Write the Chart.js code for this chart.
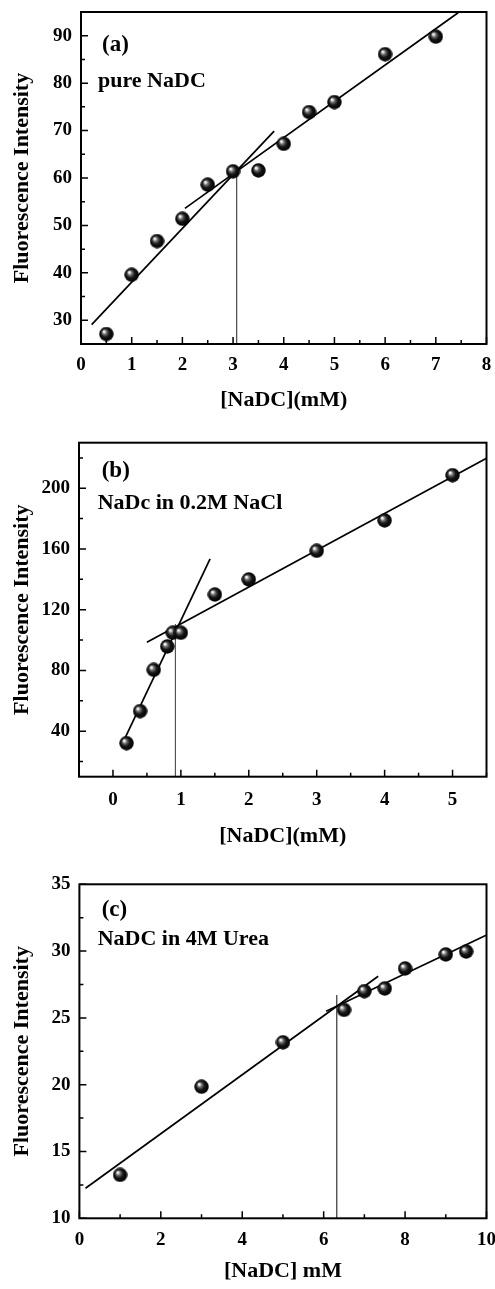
<!DOCTYPE html>
<html><head><meta charset="utf-8">
<script src="https://cdn.jsdelivr.net/npm/chart.js@4.4.1/dist/chart.umd.min.js"></script>
<style>
html,body{margin:0;padding:0;background:#fff;}
body{width:495px;height:1289px;position:relative;overflow:hidden;}
canvas{position:absolute;left:0;}
</style></head><body>
<canvas id="ca" width="495" height="420" style="top:0"></canvas>
<canvas id="cb" width="495" height="440" style="top:420px"></canvas>
<canvas id="cc" width="495" height="429" style="top:860px"></canvas>
<script>
// ---------- Panel (a): pure NaDC ----------
const xA = [0.5, 1, 1.5, 2, 2.5, 3, 3.5, 4, 4.5, 5, 6, 7];
const yA = [27.1, 39.6, 46.7, 51.4, 58.6, 61.4, 61.6, 67.2, 73.9, 76.0, 86.1, 89.8];
const fitA1X = [0.21, 3.81], fitA1Y = [29.1, 69.9];
const fitA2X = [2.05, 7.44], fitA2Y = [53.6, 94.85];
const cmcA_X = [3.07, 3.07], cmcA_Y = [61.4, 25];
const xTicksA = [0,0.5,1,1.5,2,2.5,3,3.5,4,4.5,5,5.5,6,6.5,7,7.5,8];
const xLabelsA = [0,1,2,3,4,5,6,7,8];
const yTicksA = [25,30,35,40,45,50,55,60,65,70,75,80,85,90,95];
const yLabelsA = [30,40,50,60,70,80,90];

// ---------- Panel (b): NaDc in 0.2M NaCl ----------
const xB = [0.2, 0.4, 0.6, 0.8, 0.88, 1.0, 1.5, 2, 3, 4, 5];
const yB = [32.1, 53.2, 80.4, 95.8, 104.8, 104.8, 130, 139.9, 158.8, 178.8, 208.6];
const fitB1X = [0.165, 1.43], fitB1Y = [34.3, 153.5];
const fitB2X = [0.50, 5.5], fitB2Y = [98.6, 219.7];
const cmcB_X = [0.92, 0.92], cmcB_Y = [110.5, 10];
const xTicksB = [-0.5,0,0.5,1,1.5,2,2.5,3,3.5,4,4.5,5,5.5];
const xLabelsB = [0,1,2,3,4,5];
const yTicksB = [20,40,60,80,100,120,140,160,180,200,220];
const yLabelsB = [40,80,120,160,200];

// ---------- Panel (c): NaDC in 4M Urea ----------
const xC = [1, 3, 5, 6.5, 7, 7.5, 8, 9, 9.5];
const yC = [13.25, 19.85, 23.17, 25.6, 27.0, 27.2, 28.7, 29.75, 29.97];
const fitC1X = [0.15, 7.34], fitC1Y = [12.25, 28.12];
const fitC2X = [6.06, 9.99], fitC2Y = [25.5, 31.18];
const cmcC_X = [6.32, 6.32], cmcC_Y = [26.7, 10];
const xTicksC = [0,1,2,3,4,5,6,7,8,9,10];
const xLabelsC = [0,2,4,6,8,10];
const yTicksC = [10,12.5,15,17.5,20,22.5,25,27.5,30,32.5,35];
const yLabelsC = [10,15,20,25,30,35];

const FONT = "'Liberation Serif','Times New Roman',serif";

function zip(xs, ys){ return xs.map((x,i)=>({x:x, y:ys[i]})); }

function makeSphere(d){
  const c = document.createElement('canvas'); c.width = d; c.height = d;
  const g = c.getContext('2d'); const r = d/2;
  const grad = g.createRadialGradient(r - r*0.36, r - r*0.36, 0, r, r, r);
  grad.addColorStop(0, '#ffffff');
  grad.addColorStop(0.12, '#eeeeee');
  grad.addColorStop(0.3, '#707070');
  grad.addColorStop(0.58, '#151515');
  grad.addColorStop(1, '#000000');
  g.fillStyle = grad; g.beginPath(); g.arc(r, r, r - 0.3, 0, Math.PI*2); g.fill();
  return c;
}
const sphere = makeSphere(15);

const framePlugin = {
  id: 'frame',
  afterDatasetsDraw(chart, args, opts){
    const ctx = chart.ctx, a = chart.chartArea;
    const xs = chart.scales.x, ys = chart.scales.y;
    ctx.save();
    ctx.strokeStyle = '#000';
    ctx.lineWidth = 1.5;
    ctx.beginPath();
    xs.ticks.forEach(t => {
      const px = xs.getPixelForValue(t.value);
      const len = opts.xMajor.includes(t.value) ? 7 : 4;
      ctx.moveTo(px, a.bottom); ctx.lineTo(px, a.bottom - len);
    });
    ys.ticks.forEach(t => {
      const py = ys.getPixelForValue(t.value);
      const len = opts.yMajor.includes(t.value) ? 7 : 4;
      ctx.moveTo(a.left, py); ctx.lineTo(a.left + len, py);
    });
    ctx.stroke();
    ctx.lineWidth = 2;
    ctx.strokeRect(a.left, a.top, a.right - a.left, a.bottom - a.top);
    ctx.fillStyle = '#000';
    ctx.textBaseline = 'middle';
    ctx.textAlign = 'left';
    opts.notes.forEach(n => {
      ctx.font = 'bold ' + n.size + 'px ' + FONT;
      ctx.fillText(n.text, a.left + n.dx, a.top + n.dy);
    });
    ctx.restore();
  }
};

function panel(id, p){
  const W = 495, H = p.H;
  new Chart(document.getElementById(id), {
    type: 'scatter',
    data: { datasets: [
      { data: zip(p.x, p.y), pointStyle: sphere, pointRadius: 7.5, pointHoverRadius: 7.5, showLine: false, order: 0 },
      { data: zip(p.f1x, p.f1y), showLine: true, borderColor: '#000', borderWidth: 1.7, pointRadius: 0, order: 1 },
      { data: zip(p.f2x, p.f2y), showLine: true, borderColor: '#000', borderWidth: 1.7, pointRadius: 0, order: 1 },
      { data: zip(p.vx, p.vy), showLine: true, borderColor: '#555', borderWidth: 1, pointRadius: 0, order: 2 }
    ]},
    options: {
      responsive: false, animation: false, events: [],
      layout: { padding: { left: 0, right: W - p.R, top: p.T, bottom: 0 } },
      plugins: {
        legend: { display: false }, tooltip: { enabled: false },
        frame: { xMajor: p.xLab, yMajor: p.yLab, notes: p.notes }
      },
      scales: {
        x: {
          type: 'linear', min: p.xMin, max: p.xMax,
          afterBuildTicks: s => { s.ticks = p.xTicks.map(v => ({ value: v })); },
          afterFit: s => { s.height = H - p.B; s.paddingLeft = 0; s.paddingRight = 0; },
          grid: { display: false, drawTicks: false }, border: { display: false },
          ticks: { autoSkip: false, maxRotation: 0, minRotation: 0, padding: p.xTickPad, color: '#000',
                   font: { family: FONT, size: 19, weight: 'bold' },
                   callback: v => p.xLab.includes(v) ? String(v) : '' },
          title: { display: true, text: p.xTitle, color: '#000',
                   font: { family: FONT, size: 22, weight: 'bold' },
                   padding: { top: 0, bottom: p.xTitlePad } }
        },
        y: {
          type: 'linear', min: p.yMin, max: p.yMax,
          afterBuildTicks: s => { s.ticks = p.yTicks.map(v => ({ value: v })); },
          afterFit: s => { s.width = p.L; s.paddingTop = 0; s.paddingBottom = 0; },
          grid: { display: false, drawTicks: false }, border: { display: false },
          ticks: { autoSkip: false, padding: 9, color: '#000',
                   font: { family: FONT, size: 19, weight: 'bold' },
                   callback: v => p.yLab.includes(v) ? String(v) : '' },
          title: { display: true, text: 'Fluorescence Intensity', color: '#000',
                   font: { family: FONT, size: 22, weight: 'bold' },
                   padding: { top: 9, bottom: 0 } }
        }
      }
    },
    plugins: [framePlugin]
  });
}

panel('ca', {
  H: 420, L: 81, R: 492, T: 12, B: 344,
  x: xA, y: yA, f1x: fitA1X, f1y: fitA1Y, f2x: fitA2X, f2y: fitA2Y, vx: cmcA_X, vy: cmcA_Y,
  xMin: 0, xMax: 8, yMin: 25, yMax: 95,
  xTicks: xTicksA, xLab: xLabelsA, yTicks: yTicksA, yLab: yLabelsA,
  xTickPad: 9.6, xTitlePad: 6.8, xTitle: '[NaDC](mM)',
  notes: [ { text: '(a)', size: 23, dx: 21, dy: 33 }, { text: 'pure NaDC', size: 22, dx: 17, dy: 69.5 } ]
});
panel('cb', {
  H: 440, L: 79, R: 491, T: 22.7, B: 356.7,
  x: xB, y: yB, f1x: fitB1X, f1y: fitB1Y, f2x: fitB2X, f2y: fitB2Y, vx: cmcB_X, vy: cmcB_Y,
  xMin: -0.5, xMax: 5.5, yMin: 10, yMax: 230,
  xTicks: xTicksB, xLab: xLabelsB, yTicks: yTicksB, yLab: yLabelsB,
  xTickPad: 11.9, xTitlePad: 10.1, xTitle: '[NaDC](mM)',
  notes: [ { text: '(b)', size: 23, dx: 22.7, dy: 28 }, { text: 'NaDc in 0.2M NaCl', size: 22, dx: 18.7, dy: 60.6 } ]
});
panel('cc', {
  H: 429, L: 79.4, R: 489, T: 24.3, B: 358.3,
  x: xC, y: yC, f1x: fitC1X, f1y: fitC1Y, f2x: fitC2X, f2y: fitC2Y, vx: cmcC_X, vy: cmcC_Y,
  xMin: 0, xMax: 10, yMin: 10, yMax: 35,
  xTicks: xTicksC, xLab: xLabelsC, yTicks: yTicksC, yLab: yLabelsC,
  xTickPad: 10.3, xTitlePad: 4.1, xTitle: '[NaDC] mM',
  notes: [ { text: '(c)', size: 23, dx: 22.3, dy: 25.7 }, { text: 'NaDC in 4M Urea', size: 22, dx: 18.3, dy: 55.5 } ]
});
</script>
</body></html>
